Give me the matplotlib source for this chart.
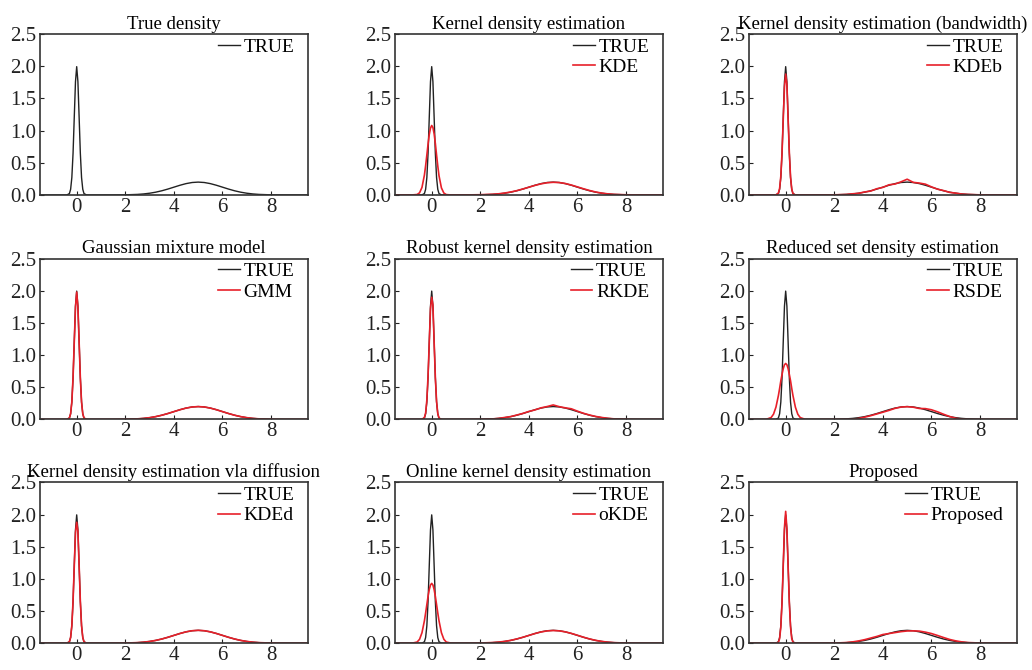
import matplotlib.pyplot as plt
import numpy as np

plt.rcParams['font.family'] = ['Liberation Serif', 'DejaVu Serif']

# Shared x positions: the narrow peak near 0 and the wide bump near 5
x_peak = [-1.5, -1.0, -0.8, -0.6, -0.5, -0.4, -0.3, -0.25, -0.2, -0.15, -0.1, -0.05,
          0.0, 0.05, 0.1, 0.15, 0.2, 0.25, 0.3, 0.4, 0.5, 0.6, 0.8, 1.0]
x_bump = [1.5, 2.0, 2.5, 2.75, 3.0, 3.25, 3.5, 3.75, 4.0, 4.25, 4.5, 4.75, 5.0,
          5.25, 5.5, 5.75, 6.0, 6.25, 6.5, 6.75, 7.0, 7.25, 7.5, 8.0, 8.5, 9.5]

true_peak = [0, 0, 0, 0, 0, 0.001, 0.022, 0.088, 0.270, 0.648, 1.210, 1.761,
             1.995, 1.761, 1.210, 0.648, 0.270, 0.088, 0.022, 0.001, 0, 0, 0, 0]
true_bump = [0.0004, 0.0022, 0.0088, 0.0159, 0.0271, 0.0433, 0.0649, 0.0916, 0.1213,
             0.1510, 0.1765, 0.1938, 0.2000, 0.1938, 0.1765, 0.1510, 0.1213, 0.0916,
             0.0649, 0.0433, 0.0271, 0.0159, 0.0088, 0.0022, 0.0004, 0.0]

kde_peak = [0, 0, 0.001, 0.007, 0.034, 0.118, 0.31, 0.455, 0.62, 0.79, 0.94, 1.04,
            1.08, 1.05, 0.95, 0.80, 0.62, 0.45, 0.30, 0.11, 0.03, 0.006, 0, 0]
kde_bump = [0.001, 0.004, 0.011, 0.018, 0.030, 0.046, 0.067, 0.093, 0.121, 0.149,
            0.173, 0.190, 0.197, 0.193, 0.178, 0.154, 0.125, 0.096, 0.069, 0.046,
            0.029, 0.017, 0.009, 0.003, 0.001, 0]

kdeb_peak = [0, 0, 0, 0, 0, 0.002, 0.03, 0.10, 0.29, 0.66, 1.18, 1.68,
             1.88, 1.72, 1.19, 0.66, 0.28, 0.09, 0.02, 0, 0, 0, 0, 0]
kdeb_bump = [0, 0.002, 0.008, 0.018, 0.026, 0.047, 0.061, 0.097, 0.118, 0.158,
             0.170, 0.205, 0.245, 0.196, 0.185, 0.168, 0.126, 0.090, 0.068, 0.040,
             0.029, 0.014, 0.008, 0.002, 0, 0]

gmm_peak = [0, 0, 0, 0, 0, 0.001, 0.024, 0.090, 0.272, 0.650, 1.205, 1.750,
            1.980, 1.750, 1.200, 0.645, 0.268, 0.087, 0.022, 0.001, 0, 0, 0, 0]
gmm_bump = [0.0004, 0.0023, 0.0090, 0.0160, 0.0273, 0.0435, 0.0650, 0.0915, 0.1210,
            0.1505, 0.1760, 0.1932, 0.1995, 0.1935, 0.1762, 0.1508, 0.1212, 0.0917,
            0.0650, 0.0434, 0.0272, 0.0160, 0.0089, 0.0023, 0.0004, 0.0]

rkde_peak = [0, 0, 0, 0, 0, 0.002, 0.03, 0.10, 0.30, 0.68, 1.20, 1.72,
             1.90, 1.78, 1.20, 0.65, 0.28, 0.09, 0.02, 0, 0, 0, 0, 0]
rkde_bump = [0, 0.002, 0.008, 0.016, 0.030, 0.044, 0.068, 0.093, 0.124, 0.148,
             0.180, 0.200, 0.225, 0.198, 0.180, 0.165, 0.128, 0.095, 0.068, 0.046,
             0.030, 0.017, 0.009, 0.002, 0, 0]

rsde_peak = [0, 0, 0.002, 0.029, 0.082, 0.192, 0.37, 0.48, 0.60, 0.70, 0.79, 0.85,
             0.87, 0.85, 0.79, 0.70, 0.60, 0.48, 0.37, 0.19, 0.08, 0.028, 0.002, 0]
rsde_bump = [0, 0, 0, 0.002, 0.015, 0.035, 0.058, 0.085, 0.112, 0.140, 0.172,
             0.192, 0.198, 0.190, 0.170, 0.168, 0.150, 0.118, 0.080, 0.045, 0.018,
             0.004, 0, 0, 0, 0]

kded_peak = [0, 0, 0, 0, 0, 0.001, 0.023, 0.090, 0.275, 0.655, 1.200, 1.720,
             1.880, 1.740, 1.205, 0.650, 0.272, 0.089, 0.022, 0.001, 0, 0, 0, 0]
kded_bump = [0.0004, 0.0022, 0.0089, 0.0160, 0.0272, 0.0434, 0.0650, 0.0917, 0.1214,
             0.1510, 0.1766, 0.1939, 0.2001, 0.1939, 0.1766, 0.1510, 0.1214, 0.0917,
             0.0650, 0.0434, 0.0272, 0.0160, 0.0089, 0.0022, 0.0004, 0.0]

okde_peak = [0, 0, 0.001, 0.018, 0.061, 0.163, 0.349, 0.47, 0.60, 0.728, 0.834, 0.905,
             0.93, 0.905, 0.834, 0.728, 0.60, 0.47, 0.349, 0.163, 0.061, 0.018, 0.001, 0]
okde_bump = [0.0005, 0.003, 0.010, 0.017, 0.028, 0.044, 0.066, 0.092, 0.121, 0.150,
             0.175, 0.191, 0.197, 0.192, 0.176, 0.152, 0.123, 0.093, 0.066, 0.044,
             0.028, 0.016, 0.009, 0.002, 0.0005, 0.0]

prop_peak = [0, 0, 0, 0, 0, 0, 0.015, 0.07, 0.25, 0.64, 1.22, 1.80,
             2.05, 1.78, 1.20, 0.63, 0.25, 0.07, 0.015, 0, 0, 0, 0, 0]
prop_bump = [0.0, 0.002, 0.010, 0.020, 0.035, 0.055, 0.080, 0.105, 0.135, 0.150,
             0.165, 0.180, 0.190, 0.192, 0.188, 0.172, 0.150, 0.120, 0.088, 0.058,
             0.036, 0.020, 0.010, 0.003, 0.0, 0.0]

titles = [
    'True density', 'Kernel density estimation', 'Kernel density estimation (bandwidth)',
    'Gaussian mixture model', 'Robust kernel density estimation',
    'Reduced set density estimation', 'Kernel density estimation vla diffusion',
    'Online kernel density estimation', 'Proposed',
]
labels = [None, 'KDE', 'KDEb', 'GMM', 'RKDE', 'RSDE', 'KDEd', 'oKDE', 'Proposed']
estimates = [
    None, (kde_peak, kde_bump), (kdeb_peak, kdeb_bump), (gmm_peak, gmm_bump),
    (rkde_peak, rkde_bump), (rsde_peak, rsde_bump), (kded_peak, kded_bump),
    (okde_peak, okde_bump), (prop_peak, prop_bump),
]

x_all = np.array(x_peak + x_bump)
y_true = np.array(true_peak + true_bump)

fig = plt.figure(figsize=(10.32, 6.70), dpi=100)
lefts = [0.039, 0.383, 0.726]
bottoms = [0.709, 0.374, 0.040]
w, h = 0.259, 0.240

for i, title in enumerate(titles):
    r, c = divmod(i, 3)
    ax = fig.add_axes([lefts[c], bottoms[r], w, h])
    ax.plot(x_all, y_true, color='#222222', lw=1.0, label='TRUE')
    if estimates[i] is not None:
        pk, bp = estimates[i]
        ax.plot(x_all, np.array(pk + bp), color='#e8202a', lw=1.2, label=labels[i])

    ax.set_xlim(-1.5, 9.5)
    ax.set_ylim(0, 2.5)
    ax.set_xticks([0, 2, 4, 6, 8])
    ax.set_yticks([0, 0.5, 1.0, 1.5, 2.0, 2.5])
    ax.set_yticklabels(['0.0', '0.5', '1.0', '1.5', '2.0', '2.5'])
    ax.tick_params(direction='in', length=3, width=0.8, labelsize=15, pad=3,
                   colors='#222222')
    ax.tick_params(axis='x', pad=2)
    for s in ax.spines.values():
        s.set_linewidth(1.2)
        s.set_color('#333333')
    ax.set_title(title, fontsize=13.5, pad=4)
    ax.legend(loc='upper right', bbox_to_anchor=(0.965, 1.0), frameon=False,
              fontsize=14, handlelength=1.1, handletextpad=0.2, labelspacing=0.15,
              borderaxespad=0.0, borderpad=0.2)

fig.savefig('out.png', dpi=100)
